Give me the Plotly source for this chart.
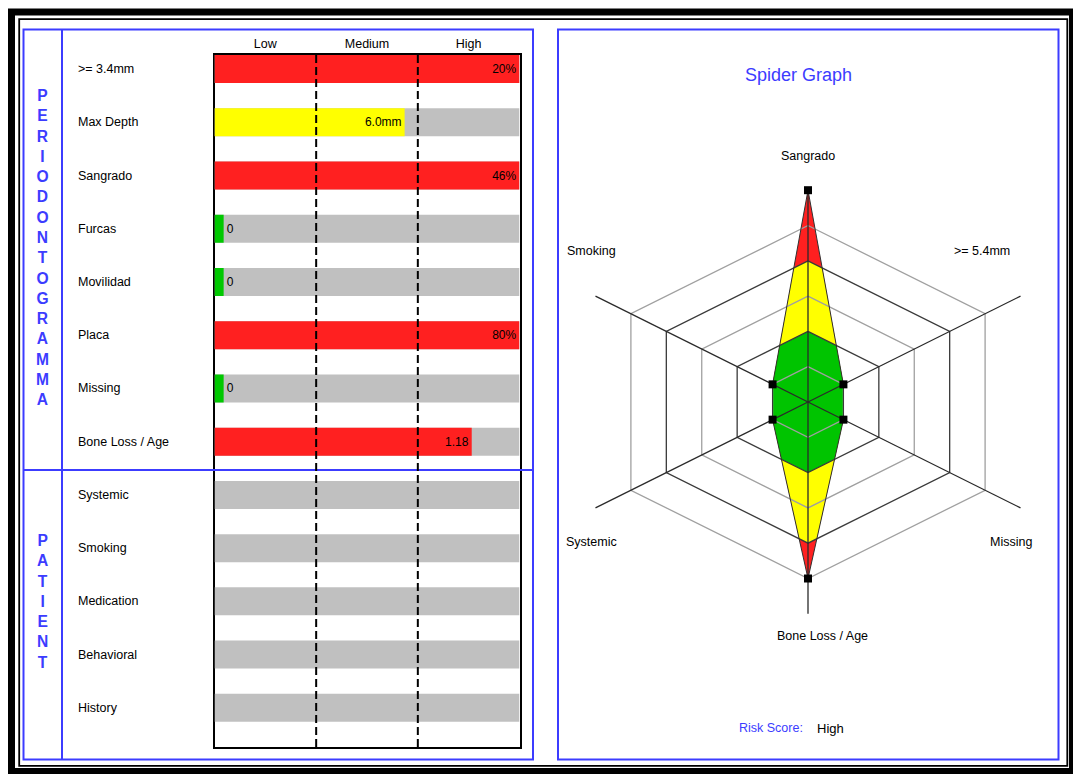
import math
import plotly.graph_objects as go

W, H = 1073, 774


def px(x):
    return x / W


def py(y):
    return 1 - y / H


# ---------------- data ----------------
categories = [">= 3.4mm", "Max Depth", "Sangrado", "Furcas", "Movilidad", "Placa",
              "Missing", "Bone Loss / Age", "Systemic", "Smoking", "Medication",
              "Behavioral", "History"]
bar_values = [3.0, 1.87, 3.0, 0.09, 0.09, 3.0, 0.09, 2.53, 0, 0, 0, 0, 0]
bar_colors = ["#ff2020", "#ffff00", "#ff2020", "#00c800", "#00c800", "#ff2020",
              "#00c800", "#ff2020", "#c0c0c0", "#c0c0c0", "#c0c0c0", "#c0c0c0", "#c0c0c0"]
bar_texts = ["20%", "6.0mm", "46%", "0", "0", "80%", "0", "1.18", "", "", "", "", ""]
bar_textpos = ["inside", "inside", "inside", "outside", "outside", "inside",
               "outside", "inside", "none", "none", "none", "none", "none"]
scale_labels = ["Low", "Medium", "High"]
scale_max = 3

spider_axes = ["Sangrado", ">= 5.4mm", "Missing", "Bone Loss / Age", "Systemic", "Smoking"]
spider_values = [6, 1, 1, 5, 1, 1]
ring_levels = [1, 2, 3, 4, 5]
axis_max = 6
band_limits = [2, 4]
band_colors = ["#00c400", "#ffff00", "#ff2020"]  # green <=2, yellow <=4, red beyond

side_titles = ["PERIODONTOGRAMMA", "PATIENT"]

BLUE = "#3c3cff"
FONT = "Liberation Sans, Arial, sans-serif"

fig = go.Figure()

# ---------------- bar chart ----------------
bw = 0.526
fig.add_trace(go.Bar(
    x=[scale_max] * len(categories), y=categories, orientation="h",
    marker=dict(color="#c0c0c0", line_width=0), width=bw,
    hoverinfo="skip", showlegend=False, xaxis="x", yaxis="y"))
fig.add_trace(go.Bar(
    x=bar_values, y=categories, orientation="h",
    marker=dict(color=bar_colors, line_width=0), width=bw,
    text=bar_texts, textposition=bar_textpos, insidetextanchor="end",
    textfont=dict(size=12, color="black", family=FONT),
    insidetextfont=dict(size=12, color="black", family=FONT),
    outsidetextfont=dict(size=12, color="black", family=FONT),
    constraintext="none", cliponaxis=False,
    hoverinfo="skip", showlegend=False, xaxis="x", yaxis="y"))

# ---------------- spider graph ----------------
n = len(spider_axes)
angles = [2 * math.pi * i / n for i in range(n)]  # clockwise from top


def pt(r, a):
    return (r * math.sin(a), r * math.cos(a))


def hexagon(R):
    return [pt(R, a) for a in angles]


def clip(subject, clip_poly):
    # Sutherland-Hodgman; clip_poly is clockwise -> inside is to the right
    def inside(p, a, b):
        return (b[0] - a[0]) * (p[1] - a[1]) - (b[1] - a[1]) * (p[0] - a[0]) <= 1e-12

    def inter(p1, p2, a, b):
        x1, y1 = p1
        x2, y2 = p2
        x3, y3 = a
        x4, y4 = b
        den = (x1 - x2) * (y3 - y4) - (y1 - y2) * (x3 - x4)
        t = ((x1 - x3) * (y3 - y4) - (y1 - y3) * (x3 - x4)) / den
        return (x1 + t * (x2 - x1), y1 + t * (y2 - y1))

    out = list(subject)
    m = len(clip_poly)
    for i in range(m):
        a, b = clip_poly[i], clip_poly[(i + 1) % m]
        inp, out = out, []
        for j in range(len(inp)):
            cur, prev = inp[j], inp[j - 1]
            if inside(cur, a, b):
                if not inside(prev, a, b):
                    out.append(inter(prev, cur, a, b))
                out.append(cur)
            elif inside(prev, a, b):
                out.append(inter(prev, cur, a, b))
    return out


data_poly = [pt(v, a) for v, a in zip(spider_values, angles)]
layers = [data_poly] + [clip(data_poly, hexagon(L)) for L in reversed(band_limits)]
layer_colors = list(reversed(band_colors))
for poly, col in zip(layers, layer_colors):
    xs = [p[0] for p in poly] + [poly[0][0]]
    ys = [p[1] for p in poly] + [poly[0][1]]
    fig.add_trace(go.Scatter(x=xs, y=ys, mode="lines", fill="toself", fillcolor=col,
                             line=dict(width=0, color=col), hoverinfo="skip",
                             showlegend=False, xaxis="x2", yaxis="y2"))

# rings
for level in ring_levels:
    hx = hexagon(level)
    xs = [p[0] for p in hx] + [hx[0][0]]
    ys = [p[1] for p in hx] + [hx[0][1]]
    col = "#3a3a3a" if level % 2 == 0 else "#a0a0a0"
    fig.add_trace(go.Scatter(x=xs, y=ys, mode="lines", line=dict(color=col, width=1.3),
                             hoverinfo="skip", showlegend=False, xaxis="x2", yaxis="y2"))
# spokes
sx, sy = [], []
for a in angles:
    e = pt(axis_max, a)
    sx += [0, e[0], None]
    sy += [0, e[1], None]
fig.add_trace(go.Scatter(x=sx, y=sy, mode="lines", line=dict(color="#2a2a2a", width=1.3),
                         hoverinfo="skip", showlegend=False, xaxis="x2", yaxis="y2"))
# data outline + markers
fig.add_trace(go.Scatter(
    x=[p[0] for p in data_poly] + [data_poly[0][0]],
    y=[p[1] for p in data_poly] + [data_poly[0][1]],
    mode="lines", line=dict(color="#303030", width=1),
    hoverinfo="skip", showlegend=False, xaxis="x2", yaxis="y2"))
fig.add_trace(go.Scatter(
    x=[p[0] for p in data_poly], y=[p[1] for p in data_poly],
    mode="markers", marker=dict(symbol="square", size=8, color="black"),
    hoverinfo="skip", showlegend=False, xaxis="x2", yaxis="y2"))

# ---------------- annotations ----------------
ann = []
for c in categories:
    ann.append(dict(x=px(76), y=c, xref="paper", yref="y", text=c, showarrow=False,
                    xanchor="left", yanchor="middle",
                    font=dict(size=12.5, color="black", family=FONT)))

ann.append(dict(x=px(42.5), y=py(247.5), xref="paper", yref="paper",
                text="<br>".join("<b>%s</b>" % ch for ch in side_titles[0]),
                showarrow=False, xanchor="center", yanchor="middle",
                font=dict(size=15.6, color=BLUE, family=FONT)))
ann.append(dict(x=px(42.5), y=py(601), xref="paper", yref="paper",
                text="<br>".join("<b>%s</b>" % ch for ch in side_titles[1]),
                showarrow=False, xanchor="center", yanchor="middle",
                font=dict(size=15.6, color=BLUE, family=FONT)))

spider_label_pos = [(808, 156), (982, 251), (1011, 542), (822, 636), (591, 542), (591, 251)]
for name, (lx, ly) in zip(spider_axes, spider_label_pos):
    ann.append(dict(x=px(lx), y=py(ly), xref="paper", yref="paper", text=name,
                    showarrow=False, xanchor="center", yanchor="middle",
                    font=dict(size=12.5, color="black", family=FONT)))

ann.append(dict(x=px(798), y=py(75), xref="paper", yref="paper", text="Spider Graph",
                showarrow=False, xanchor="center", yanchor="middle",
                font=dict(size=18, color=BLUE, family=FONT)))
ann.append(dict(x=px(771), y=py(728), xref="paper", yref="paper", text="Risk Score:",
                showarrow=False, xanchor="center", yanchor="middle",
                font=dict(size=12.5, color=BLUE, family=FONT)))
ann.append(dict(x=px(830.5), y=py(728), xref="paper", yref="paper", text="High",
                showarrow=False, xanchor="center", yanchor="middle",
                font=dict(size=13, color="black", family=FONT)))

# ---------------- shapes ----------------
shapes = []
# outer black frames
shapes.append(dict(type="rect", xref="paper", yref="paper",
                   x0=px(11.5), x1=px(1072.5), y0=py(12), y1=py(771.5),
                   line=dict(color="black", width=7), layer="above"))
shapes.append(dict(type="rect", xref="paper", yref="paper",
                   x0=px(19.2), x1=px(1067.3), y0=py(19.2), y1=py(765.8),
                   line=dict(color="black", width=1.8), layer="above"))
# blue panels
for x0, x1 in [(23.5, 533), (558, 1058.5)]:
    shapes.append(dict(type="rect", xref="paper", yref="paper",
                       x0=px(x0), x1=px(x1), y0=py(29.5), y1=py(759.5),
                       line=dict(color=BLUE, width=2), layer="above"))
shapes.append(dict(type="line", xref="paper", yref="paper",
                   x0=px(62), x1=px(62), y0=py(29.5), y1=py(759.5),
                   line=dict(color=BLUE, width=2), layer="above"))
shapes.append(dict(type="line", xref="paper", yref="paper",
                   x0=px(23.5), x1=px(533), y0=py(470), y1=py(470),
                   line=dict(color=BLUE, width=2), layer="above"))
# dashed boundaries between Low / Medium / High
for k in range(1, scale_max):
    shapes.append(dict(type="line", xref="x", yref="y domain", x0=k, x1=k, y0=0, y1=1,
                       line=dict(color="black", width=2, dash="8px,4px"), layer="above"))

kx, ky = 40.9, 35.3
cx, cy = 808, 402
x2_dom = (560, 1056)
y2_dom = (140, 664)

fig.update_layout(
    width=W, height=H, margin=dict(l=0, r=0, t=0, b=0),
    paper_bgcolor="white", plot_bgcolor="rgba(0,0,0,0)",
    barmode="overlay", showlegend=False,
    font=dict(family=FONT, color="black"),
    xaxis=dict(domain=[px(214.5), px(519.5)], range=[0, scale_max], side="top",
               tickvals=[i + 0.5 for i in range(scale_max)], ticktext=scale_labels,
               ticks="", showgrid=False, zeroline=False, showline=True, mirror=True,
               linecolor="black", linewidth=2, layer="below traces",
               tickfont=dict(size=12.5, color="black", family=FONT), anchor="y",
               fixedrange=True),
    yaxis=dict(domain=[py(747), py(55)], type="category", categoryorder="array",
               categoryarray=categories,
               range=[len(categories) - 1 + 0.736, -0.264],
               showticklabels=False, ticks="", showgrid=False, zeroline=False,
               showline=True, mirror=True, linecolor="black", linewidth=2,
               layer="below traces", anchor="x", fixedrange=True),
    xaxis2=dict(domain=[px(x2_dom[0]), px(x2_dom[1])],
                range=[(x2_dom[0] - cx) / kx, (x2_dom[1] - cx) / kx],
                visible=False, anchor="y2", fixedrange=True),
    yaxis2=dict(domain=[py(y2_dom[1]), py(y2_dom[0])],
                range=[-(y2_dom[1] - cy) / ky, (cy - y2_dom[0]) / ky],
                visible=False, anchor="x2", fixedrange=True),
    annotations=ann, shapes=shapes,
)

fig.write_html("out.html", config={"displayModeBar": False},
               post_script="document.body.style.margin='0';document.body.style.overflow='hidden';")
